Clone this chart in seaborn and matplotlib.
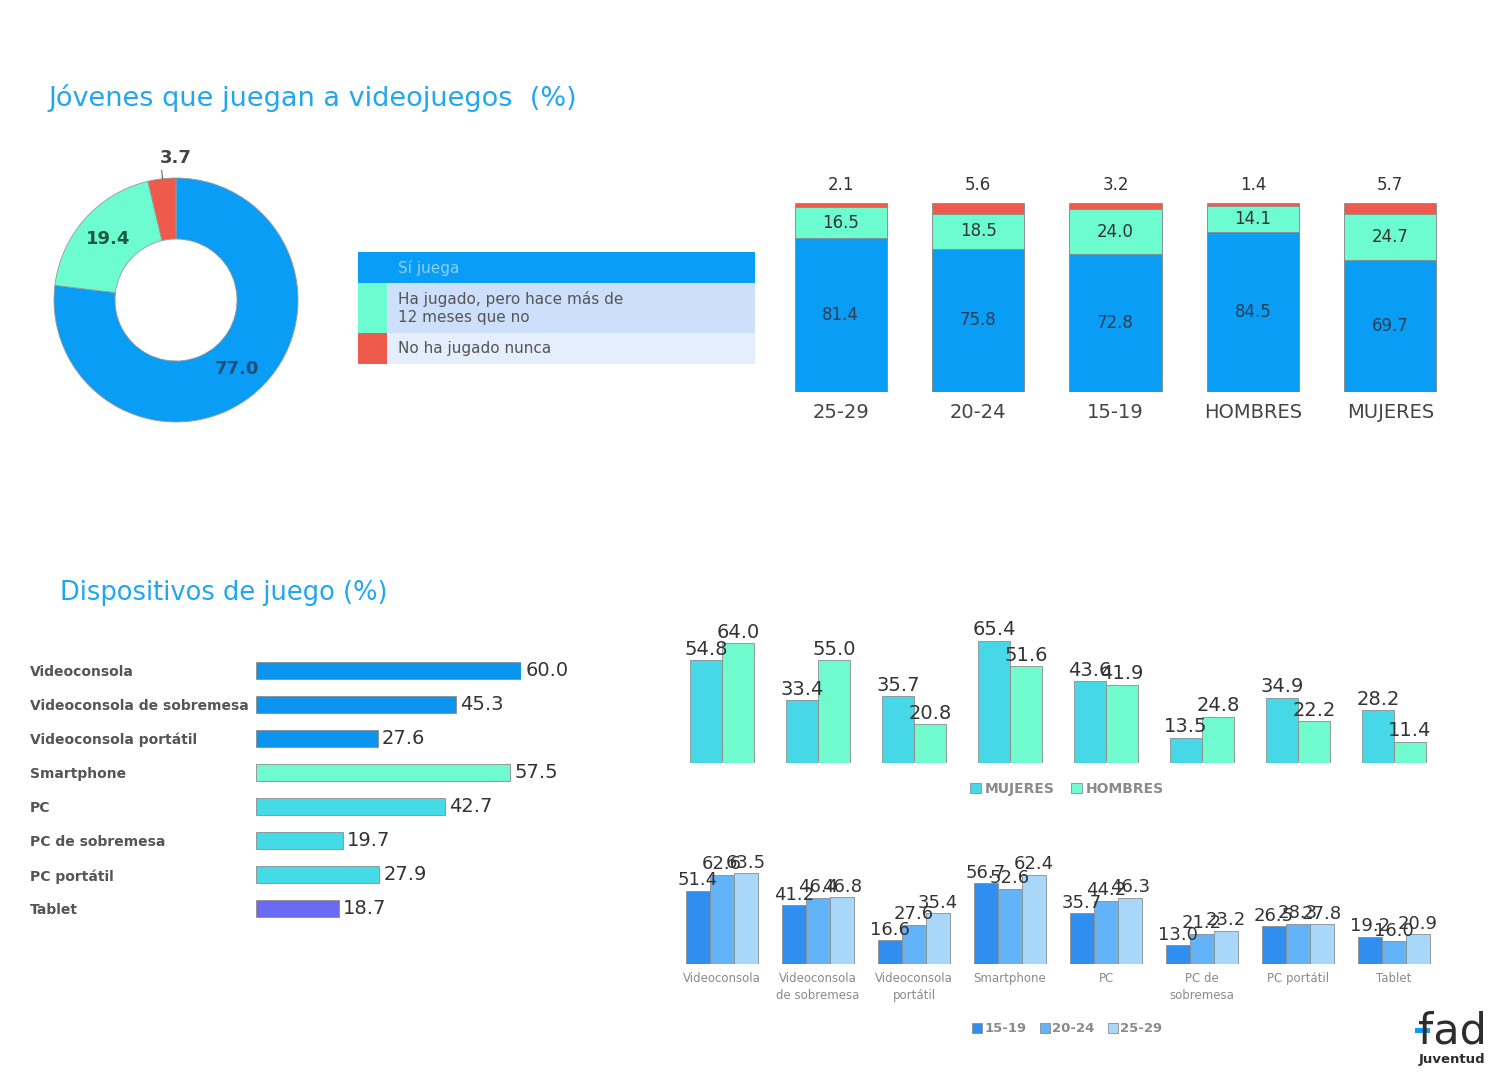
import numpy as np
import pandas as pd
import matplotlib
matplotlib.use("Agg")
import matplotlib.pyplot as plt
import seaborn as sns
from matplotlib.patches import Rectangle

# ---------------- data ----------------
donut_labels = ["Sí juega", "Ha jugado, pero hace más de\n12 meses que no", "No ha jugado nunca"]
donut_values = [77.0, 19.4, 3.7]

stack_groups = ["25-29", "20-24", "15-19", "HOMBRES", "MUJERES"]
stack_si = [81.4, 75.8, 72.8, 84.5, 69.7]
stack_ha = [16.5, 18.5, 24.0, 14.1, 24.7]
stack_no = [2.1, 5.6, 3.2, 1.4, 5.7]

devices = ["Videoconsola", "Videoconsola de sobremesa", "Videoconsola portátil",
           "Smartphone", "PC", "PC de sobremesa", "PC portátil", "Tablet"]
device_total = [60.0, 45.3, 27.6, 57.5, 42.7, 19.7, 27.9, 18.7]

gender_groups = ["MUJERES", "HOMBRES"]
gender_mujeres = [54.8, 33.4, 35.7, 65.4, 43.6, 13.5, 34.9, 28.2]
gender_hombres = [64.0, 55.0, 20.8, 51.6, 41.9, 24.8, 22.2, 11.4]

age_groups = ["15-19", "20-24", "25-29"]
age_15_19 = [51.4, 41.2, 16.6, 56.7, 35.7, 13.0, 26.5, 19.2]
age_20_24 = [62.6, 46.4, 27.6, 52.6, 44.2, 21.2, 28.3, 16.0]
age_25_29 = [63.5, 46.8, 35.4, 62.4, 46.3, 23.2, 27.8, 20.9]
device_short = ["Videoconsola", "Videoconsola\nde sobremesa", "Videoconsola\nportátil",
                "Smartphone", "PC", "PC de\nsobremesa", "PC portátil", "Tablet"]

# ---------------- style ----------------
sns.set_style("white")
plt.rcParams["font.family"] = ["DejaVu Sans"]

C_BLUE = "#0a9df6"
C_MINT = "#6cfcd0"
C_RED = "#ee5a4b"
C_TITLE = "#22a6ef"
HB_COLORS = ["#0b95ef", "#0b95ef", "#0b95ef", "#6dfbcf", "#43dce6", "#43dce6", "#43dce6", "#6a6af3"]
GEN_COLORS = ["#46d8e6", "#70fbcf"]
AGE_COLORS = ["#2f8ff0", "#62b3f7", "#a8d7fa"]
EDGE = "#8c8c8c"

W, H = 1500, 1080
fig = plt.figure(figsize=(15, 10.8), dpi=100)
fig.patch.set_facecolor("white")


def px_axes(l, t, r, b):
    return fig.add_axes([l / W, 1 - b / H, (r - l) / W, (b - t) / H])


def clean(ax):
    sns.despine(ax=ax, left=True, bottom=True)
    ax.tick_params(length=0)
    ax.set_xlabel("")
    ax.set_ylabel("")


# ---------------- titles ----------------
fig.text(48 / W, 1 - 98 / H, "Jóvenes que juegan a videojuegos  (%)", color=C_TITLE,
         fontsize=19.5, va="center", ha="left")
fig.text(60 / W, 1 - 593 / H, "Dispositivos de juego (%)", color=C_TITLE,
         fontsize=18.5, va="center", ha="left")

# ---------------- donut ----------------
axd = px_axes(46, 170, 306, 430)
wedges, _ = axd.pie(donut_values, colors=[C_BLUE, C_MINT, C_RED], startangle=90,
                    counterclock=False,
                    wedgeprops=dict(width=0.5, edgecolor="#9a9a9a", linewidth=0.6))
lim = 130 / 122
axd.set_xlim(-lim, lim)
axd.set_ylim(-lim, lim)
axd.set_aspect("equal")
cum = np.cumsum([0] + donut_values[:-1])
label_colors = ["#1f4f7c", "#1d5a44", "#444444"]
for i, (v, c0) in enumerate(zip(donut_values, cum)):
    ang = np.deg2rad(90 - (c0 + v / 2) * 3.6)
    if v > 10:
        axd.text(0.75 * np.cos(ang), 0.75 * np.sin(ang), f"{v:.1f}", ha="center",
                 va="center", fontsize=13, fontweight="bold", color=label_colors[i])
    else:
        axd.plot([np.cos(ang), 1.08 * np.cos(ang)], [np.sin(ang), 1.08 * np.sin(ang)],
                 color="#666666", lw=0.8)
        axd.text(1.17 * np.cos(ang) + 0.13, 1.17 * np.sin(ang), f"{v:.1f}", ha="center",
                 va="center", fontsize=13, color="#444444", fontweight="bold")

# ---------------- legend table ----------------
axl = px_axes(358, 252, 755, 364)
axl.set_xlim(358, 755)
axl.set_ylim(364, 252)
axl.axis("off")
rows = [(252, 283, C_BLUE, C_BLUE, "#8fd0fb"),
        (283, 333, C_MINT, "#cde0fb", "#555555"),
        (333, 364, C_RED, "#e5eefc", "#555555")]
for (t, b, sw, bg, tc), lab in zip(rows, donut_labels):
    axl.add_patch(Rectangle((387, t), 755 - 387, b - t, color=bg, lw=0))
    axl.add_patch(Rectangle((358, t), 29, b - t, color=sw, lw=0))
    axl.text(398, (t + b) / 2, lab, va="center", ha="left", fontsize=11, color=tc,
             linespacing=1.25)

# ---------------- stacked bars ----------------
axs = px_axes(772, 203, 1459, 392)
df_stack = pd.DataFrame({"grupo": stack_groups, "si": stack_si, "ha": stack_ha, "no": stack_no})
df_stack["top_no"] = df_stack["si"] + df_stack["ha"] + df_stack["no"]
df_stack["top_ha"] = df_stack["si"] + df_stack["ha"]
for col, color in [("top_no", C_RED), ("top_ha", C_MINT), ("si", C_BLUE)]:
    sns.barplot(data=df_stack, x="grupo", y=col, color=color, width=0.67, ax=axs,
                edgecolor=EDGE, linewidth=0.6, saturation=1, errorbar=None)
axs.set_xlim(-0.5, 4.5)
axs.set_ylim(0, 100)
for i, r in df_stack.iterrows():
    axs.text(i, r["si"] / 2, f"{r['si']:.1f}", ha="center", va="center", fontsize=12,
             color="#2b3d57")
    axs.text(i, r["si"] + r["ha"] / 2, f"{r['ha']:.1f}", ha="center", va="center",
             fontsize=12, color="#333333")
    axs.annotate(f"{r['no']:.1f}", (i, r["top_no"]), xytext=(0, 13),
                 textcoords="offset points", ha="center", va="center", fontsize=12,
                 color="#333333")
clean(axs)
axs.set_yticks([])
axs.tick_params(axis="x", pad=8, labelsize=14, labelcolor="#444444")

# ---------------- horizontal device bars ----------------
axh = px_axes(256, 653, 521, 926)
df_dev = pd.DataFrame({"device": devices, "pct": device_total})
sns.barplot(data=df_dev, y="device", x="pct", hue="device", palette=HB_COLORS,
            orient="h", width=0.5, ax=axh, edgecolor=EDGE, linewidth=0.6,
            saturation=1, legend=False, errorbar=None)
axh.set_xlim(0, 60)
axh.set_ylim(7.5, -0.5)
for cont in axh.containers:
    axh.bar_label(cont, fmt="%.1f", padding=3, fontsize=14, color="#333333")
clean(axh)
axh.set_xticks([])
axh.tick_params(axis="y", pad=(256 - 30) * 0.72, labelsize=10, labelcolor="#555555")
for lab in axh.get_yticklabels():
    lab.set_ha("left")
    lab.set_fontweight("bold")

# ---------------- gender grouped bars ----------------
axg = px_axes(674, 632, 1442, 763)
df_gen = pd.DataFrame({
    "device": devices * 2,
    "sexo": [gender_groups[0]] * 8 + [gender_groups[1]] * 8,
    "pct": gender_mujeres + gender_hombres,
})
sns.barplot(data=df_gen, x="device", y="pct", hue="sexo", palette=GEN_COLORS,
            width=0.667, ax=axg, edgecolor=EDGE, linewidth=0.6, saturation=1,
            errorbar=None)
axg.set_xlim(-0.5, 7.5)
axg.set_ylim(0, 70)
for cont in axg.containers:
    axg.bar_label(cont, fmt="%.1f", padding=1, fontsize=14, color="#333333")
clean(axg)
axg.set_xticks([])
axg.set_yticks([])
sns.move_legend(axg, "center", bbox_to_anchor=(0.512, -26 / 131), ncol=2,
                frameon=False, title=None, handlelength=0.75, handleheight=0.75,
                handletextpad=0.3, columnspacing=1.2, fontsize=10)
for t in axg.get_legend().get_texts():
    t.set_color("#8a8a8a")
    t.set_fontweight("bold")

# ---------------- age grouped bars ----------------
axa = px_axes(674, 864, 1442, 964)
df_age = pd.DataFrame({
    "device": device_short * 3,
    "edad": [age_groups[0]] * 8 + [age_groups[1]] * 8 + [age_groups[2]] * 8,
    "pct": age_15_19 + age_20_24 + age_25_29,
})
sns.barplot(data=df_age, x="device", y="pct", hue="edad", palette=AGE_COLORS,
            width=0.75, ax=axa, edgecolor=EDGE, linewidth=0.6, saturation=1,
            errorbar=None)
axa.set_xlim(-0.5, 7.5)
axa.set_ylim(0, 70)
for cont in axa.containers:
    axa.bar_label(cont, fmt="%.1f", padding=1, fontsize=13, color="#333333")
clean(axa)
axa.set_yticks([])
axa.tick_params(axis="x", pad=6, labelsize=8.5, labelcolor="#8a8a8a")
for lab in axa.get_xticklabels():
    lab.set_linespacing(1.35)
sns.move_legend(axa, "center", bbox_to_anchor=(0.512, -0.65), ncol=3,
                frameon=False, title=None, handlelength=0.75, handleheight=0.75,
                handletextpad=0.2, columnspacing=1.0, fontsize=9.5)
for t in axa.get_legend().get_texts():
    t.set_color("#8a8a8a")
    t.set_fontweight("bold")

# ---------------- logo ----------------
fig.text(1452 / W, 1 - 1032 / H, "fad", fontsize=31, color="#2d2d2d", ha="center",
         va="center")
fig.add_artist(Rectangle((1415 / W, 1 - 1033 / H), 15 / W, 5 / H,
                         transform=fig.transFigure, color="#0a9df6", lw=0))
fig.text(1452 / W, 1 - 1059 / H, "Juventud", fontsize=9.5, color="#2d2d2d",
         ha="center", va="center", fontweight="bold")

fig.savefig("out.png", dpi=100, facecolor="white")
